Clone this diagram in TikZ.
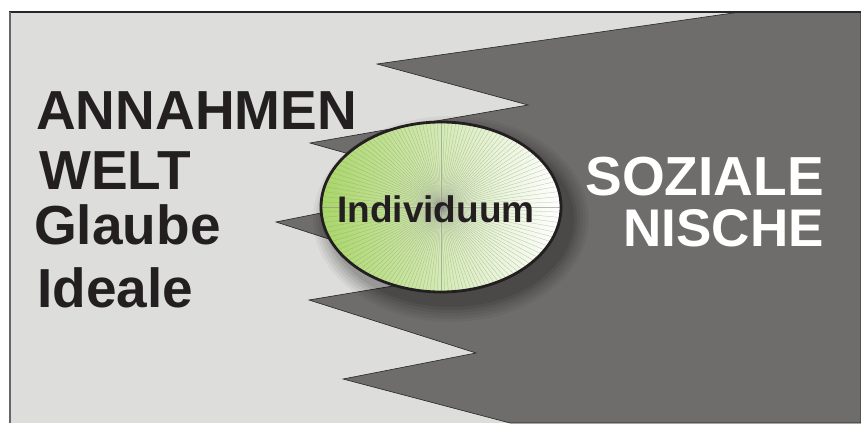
\documentclass[tikz,border=0pt]{standalone}
\usepackage{fontspec}
\setmainfont{Liberation Sans}
\usetikzlibrary{shapes.geometric}
\definecolor{lightbg}{RGB}{221,221,220}
\definecolor{darkbg}{RGB}{111,109,107}
\definecolor{txt}{RGB}{35,31,32}
\definecolor{leafgreen}{RGB}{168,214,102}
\tikzset{
  bigtext/.style={inner sep=0pt, font=\fontsize{55}{55}\selectfont\bfseries},
  lefttext/.style={bigtext, anchor=base west, text=txt},
  righttext/.style={bigtext, anchor=base east, text=white},
}
\begin{document}
\begin{tikzpicture}[x=1pt,y=-1pt]
\useasboundingbox (0,0) rectangle (861,423);
% background panel
\fill[lightbg] (9,12) rectangle (861,423);
% dark social niche area
\filldraw[fill=darkbg, draw=black!85, line width=0.6pt]
  (740,12) -- (861,12) -- (861,423) -- (510,423) -- (343,379) -- (476,353)
  -- (309,300) -- (447,277) -- (276,222) -- (460,185) -- (310,143)
  -- (528,105) -- (377,64) -- cycle;
% frame lines
\draw[black!85, line width=1.2pt] (9,12) -- (861,12);
\draw[black!60, line width=2pt] (9.5,12) -- (9.5,423);
% soft shadow of the ellipse
\foreach \r/\o in {18/0.04,15/0.05,12/0.05,9/0.06,6/0.07,3/0.08}
  \fill[black, opacity=\o] (451,219) ellipse [x radius=120+\r, y radius=85+\r];
% ellipse filling with rays
\begin{scope}
  \clip (441,207) ellipse [x radius=120, y radius=85];
  \shade[left color=leafgreen, right color=white, middle color=leafgreen!50]
    (321,122) rectangle (561,292);
  \foreach \a in {0,2.5,...,357.5}
    \draw[black!45, line width=0.25pt, opacity=0.6] (441,207) -- ++(\a:200);
\end{scope}
\node (ind) [draw=txt, ellipse, line width=2.8pt, minimum width=240pt,
  minimum height=170pt, inner sep=0pt] at (441,207) {};
\node (indlbl) [inner sep=0pt, anchor=base, text=txt,
  font=\fontsize{37}{37}\selectfont\bfseries] at (436,222) {Individuum};
% left texts
\node (annahmen) [lefttext] at (36,129) {ANNAHMEN};
\node (welt) [lefttext] at (39,189) {WELT};
\node (glaube) [lefttext] at (34,244) {Glaube};
\node (ideale) [lefttext] at (37,307) {Ideale};
% right texts
\node (soziale) [righttext] at (824,195) {SOZIALE};
\node (nische) [righttext, font=\fontsize{53}{53}\selectfont\bfseries] at (824,246) {NISCHE};
\end{tikzpicture}
\end{document}
